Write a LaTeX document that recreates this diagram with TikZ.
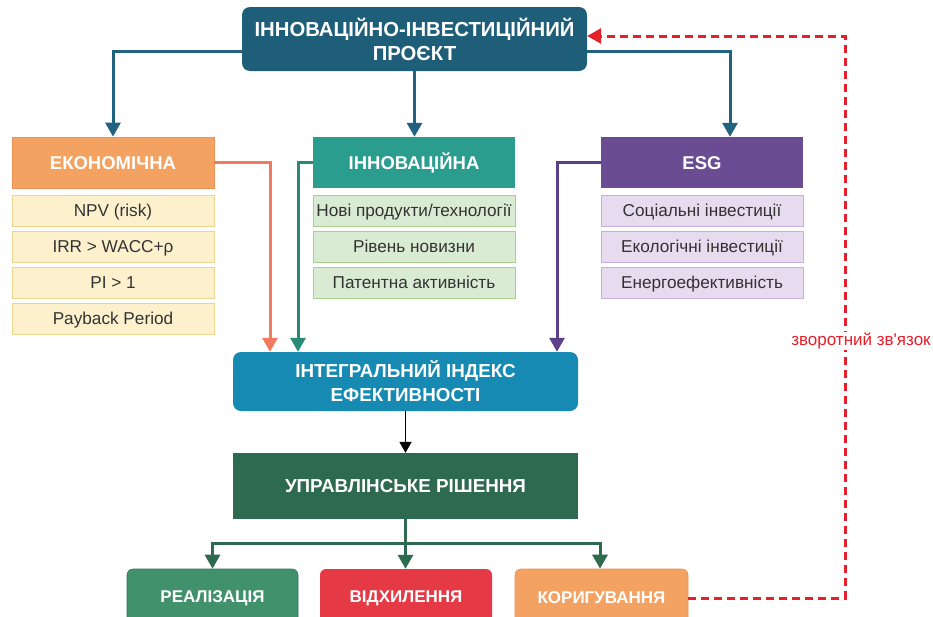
\documentclass[tikz,border=0pt]{standalone}
\usepackage{fontspec}
\setmainfont{Liberation Sans}
\usetikzlibrary{arrows.meta}
\definecolor{topc}{HTML}{1E5E78}
\definecolor{ecoc}{HTML}{F4A261}
\definecolor{ecoe}{HTML}{EE9155}
\definecolor{ecosf}{HTML}{FDF1CD}
\definecolor{ecose}{HTML}{EBD58F}
\definecolor{innc}{HTML}{2A9D8F}
\definecolor{innsf}{HTML}{D9ECD3}
\definecolor{innse}{HTML}{A7D08C}
\definecolor{esgc}{HTML}{6A4C93}
\definecolor{esgsf}{HTML}{E7DBEF}
\definecolor{esgse}{HTML}{C8AEDA}
\definecolor{idxc}{HTML}{168AB3}
\definecolor{rishc}{HTML}{2D6A4F}
\definecolor{realc}{HTML}{40916C}
\definecolor{vidc}{HTML}{E63946}
\definecolor{ecoline}{HTML}{F27A5E}
\definecolor{innline}{HTML}{2A8A78}
\definecolor{esgline}{HTML}{5E3F8A}
\definecolor{topline}{HTML}{21627E}
\definecolor{fbred}{HTML}{E5202A}
\definecolor{subtext}{HTML}{333333}
\tikzset{
  hdr/.style={minimum width=202pt, minimum height=51pt, inner sep=0pt, text=white,
    font=\fontsize{18.5}{22}\selectfont\bfseries, text height=13pt, text depth=0pt},
  bigbox/.style={inner sep=0pt, text=white, font=\fontsize{18.8}{24}\selectfont\bfseries, align=center},
  subbox/.style={minimum width=202pt, minimum height=31pt, inner sep=0pt, text=subtext,
    font=\fontsize{17.2}{20}\selectfont, line width=0.9pt, text height=12.3pt, text depth=0pt},
  outbox/.style={minimum height=58pt, inner sep=0pt, text=white, rounded corners=6pt,
    font=\fontsize{17}{20}\selectfont\bfseries},
  conn/.style={line width=3pt, -{Triangle[width=15pt,length=14pt]}},
}
\begin{document}
\begin{tikzpicture}[x=1pt,y=-1pt]
\useasboundingbox (0,0) rectangle (933,616);
% top
\node[bigbox, fill=topc, rounded corners=8pt, minimum width=345pt, minimum height=64pt,
  font=\fontsize{20.3}{24}\selectfont\bfseries] (top) at (414.5,39) {ІННОВАЦІЙНО-ІНВЕСТИЦІЙНИЙ\\ПРОЄКТ};
% headers
\node[hdr, fill=ecoc, draw=ecoe, line width=0.8pt] (eco) at (113,162.5) {ЕКОНОМІЧНА};
\node[hdr, fill=innc] (inn) at (414,162.5) {ІННОВАЦІЙНА};
\node[hdr, fill=esgc] (esg) at (702,162.5) {ESG};
% economic sub boxes
\node[subbox, fill=ecosf, draw=ecose] (e1) at (113,210.5) {NPV (risk)};
\node[subbox, fill=ecosf, draw=ecose] (e2) at (113,246.5) {IRR > WACC+ρ};
\node[subbox, fill=ecosf, draw=ecose] (e3) at (113,282.5) {PI > 1};
\node[subbox, fill=ecosf, draw=ecose] (e4) at (113,318.5) {Payback Period};
% innovation sub boxes
\node[subbox, fill=innsf, draw=innse] (i1) at (414,210.5) {Нові продукти/технології};
\node[subbox, fill=innsf, draw=innse] (i2) at (414,246.5) {Рівень новизни};
\node[subbox, fill=innsf, draw=innse] (i3) at (414,282.5) {Патентна активність};
% esg sub boxes
\node[subbox, fill=esgsf, draw=esgse] (s1) at (702,210.5) {Соціальні інвестиції};
\node[subbox, fill=esgsf, draw=esgse] (s2) at (702,246.5) {Екологічні інвестиції};
\node[subbox, fill=esgsf, draw=esgse] (s3) at (702,282.5) {Енергоефективність};
% index
\node[bigbox, fill=idxc, rounded corners=8pt, minimum width=345pt, minimum height=59pt] (idx) at (405.5,381.5) {ІНТЕГРАЛЬНИЙ ІНДЕКС\\ЕФЕКТИВНОСТІ};
% decision
\node[bigbox, fill=rishc, minimum width=345pt, minimum height=66pt, text height=13.5pt, text depth=0pt] (rish) at (405.5,486) {УПРАВЛІНСЬКЕ РІШЕННЯ};
% outcomes
\node[outbox, fill=realc, draw=realc!80!black, line width=0.6pt, minimum width=171pt] (real) at (212.5,598) {РЕАЛІЗАЦІЯ};
\node[outbox, fill=vidc, minimum width=172pt] (vid) at (406,598) {ВІДХИЛЕННЯ};
\node[outbox, fill=ecoc, draw=ecoe, line width=0.6pt, minimum width=173pt] (kor) at (601.5,598) {КОРИГУВАННЯ};
% top connectors
\draw[conn, topline] (top.west |- 0,51) -| (eco.north);
\draw[conn, topline] (top.south) -- (top.south |- inn.north);
\draw[conn, topline] (top.east |- 0,51) -| ([xshift=28pt]esg.north);
% to index
\draw[conn, ecoline] (eco.east) -| (idx.north -| 270,0);
\draw[conn, innline] (inn.west) -| (idx.north -| 298,0);
\draw[conn, esgline] (esg.west) -| (idx.north -| 557,0);
% index to decision
\draw[line width=1.8pt, black, -{Triangle[width=12pt,length=11pt]}] (idx.south) -- (rish.north);
% decision to outcomes
\coordinate (br) at (rish.south |- 0,543);
\draw[conn, rishc] (rish.south) -- (rish.south |- vid.north);
\draw[conn, rishc] (br) -| (real.north);
\draw[conn, rishc] (br) -| ([xshift=-1.5pt]kor.north);
% feedback
\coordinate (fb) at (845,36);
\draw[fbred, line width=3pt, dash pattern=on 8pt off 5pt, -{Triangle[width=15pt,length=14pt]}]
  (kor.east) -| (fb) -- (fb -| top.east);
\node[fill=white, text=fbred, inner sep=1pt, font=\fontsize{17}{20}\selectfont] (fbl) at (861,341) {зворотний зв\textquotesingle язок};
\end{tikzpicture}
\end{document}
